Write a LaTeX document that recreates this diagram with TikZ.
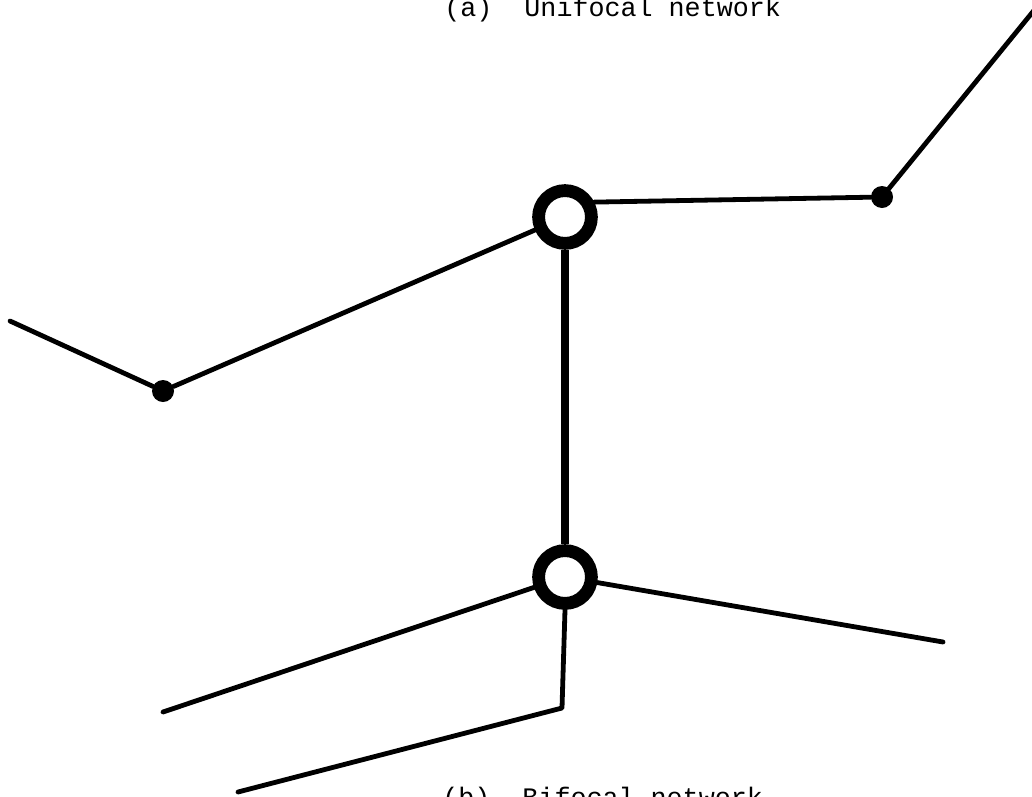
\documentclass[tikz,border=0pt]{standalone}
\usepackage{fontspec}
\newfontfamily\typewriter{Liberation Mono}
\usetikzlibrary{positioning}

\begin{document}
\begin{tikzpicture}[
  x=0.025cm, y=-0.025cm,
  font=\typewriter\fontsize{19}{22}\selectfont,
  link/.style={line width=0.12cm, line cap=round, line join=round},
  trunk/.style={line width=0.2cm},
  hub/.style={circle, draw, fill=white, line width=0.32cm, inner sep=0pt,
              minimum size=1.32cm},
  town/.style={circle, fill=black, inner sep=0pt, minimum size=0.55cm},
  caption/.style={anchor=base west, inner sep=0pt},
]
\useasboundingbox (0,0) rectangle (1032,796);

% ── captions ─────────────────────────────────────────────────────────────────
\node[caption] (capA) at (444,16) {(a)\ \ Unifocal network};
\node[caption] (capB) at (442,806) {(b)\ \ Bifocal network};

% ── places ───────────────────────────────────────────────────────────────────
\node[hub] (hubN) at (565,217) {};
\node[hub] (hubS) at (565,577) {};
\node[town] (townW) at (163,391) {};
\node[town] (townE) at (882,197) {};

\coordinate (endW)  at (10,321);
\coordinate (endNE) at (1040,3);
\coordinate (endSW) at (163,712);
\coordinate (endSE) at (943,642);
\coordinate (bend)  at (562,708);
\coordinate (endS)  at (238,792);

% ── links ────────────────────────────────────────────────────────────────────
\draw[trunk] (hubN) -- (hubS);
\draw[link] (hubN) -- (townW) -- (endW);
\draw[link] (hubN.27) -- (townE) -- (endNE);
\draw[link] (hubS) -- (endSW);
\draw[link] (hubS) -- (endSE);
\draw[link] (hubS.south) -- (bend) -- (endS);

\end{tikzpicture}
\end{document}
